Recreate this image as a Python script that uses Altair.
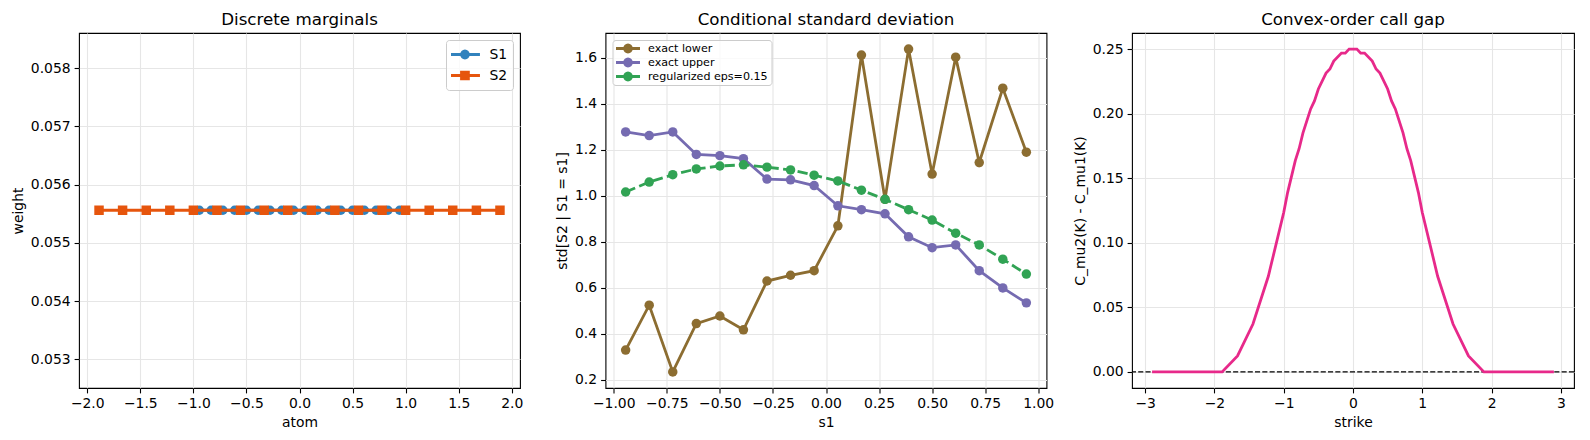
import math

import altair as alt
import pandas as pd

FONT = "DejaVu Sans"

# ---------------- discrete marginals ----------------
s1_atoms = [-0.944, -0.833, -0.722, -0.611, -0.5, -0.389, -0.278, -0.167, -0.056,
            0.056, 0.167, 0.278, 0.389, 0.5, 0.611, 0.722, 0.833, 0.944]
s1_weights = [0.05556, 0.05556, 0.05556, 0.05556, 0.05556, 0.05556, 0.05556, 0.05556, 0.05556,
              0.05556, 0.05556, 0.05556, 0.05556, 0.05556, 0.05556, 0.05556, 0.05556, 0.05556]
s2_atoms = [-1.889, -1.667, -1.444, -1.222, -1.0, -0.778, -0.556, -0.333, -0.111,
            0.111, 0.333, 0.556, 0.778, 1.0, 1.222, 1.444, 1.667, 1.889]
s2_weights = [0.05556, 0.05556, 0.05556, 0.05556, 0.05556, 0.05556, 0.05556, 0.05556, 0.05556,
              0.05556, 0.05556, 0.05556, 0.05556, 0.05556, 0.05556, 0.05556, 0.05556, 0.05556]

# ---------------- conditional std ----------------
s1_grid = [-0.944, -0.833, -0.722, -0.611, -0.5, -0.389, -0.278, -0.167, -0.056,
           0.056, 0.167, 0.278, 0.389, 0.5, 0.611, 0.722, 0.833, 0.944]
std_lower = [0.33, 0.525, 0.235, 0.445, 0.478, 0.418, 0.63, 0.655, 0.675,
             0.87, 1.612, 0.985, 1.638, 1.095, 1.603, 1.145, 1.468, 1.19]
std_upper = [1.278, 1.262, 1.278, 1.18, 1.175, 1.162, 1.073, 1.07, 1.045,
             0.957, 0.94, 0.922, 0.822, 0.775, 0.787, 0.675, 0.60, 0.535]
std_reg = [1.017, 1.06, 1.092, 1.117, 1.13, 1.135, 1.125, 1.113, 1.09,
           1.065, 1.025, 0.985, 0.94, 0.895, 0.838, 0.787, 0.725, 0.66]

# ---------------- call gap ----------------
strikes = [-2.9, -1.889, -1.667, -1.444, -1.222, -1.0, -0.944, -0.833, -0.778, -0.722,
           -0.611, -0.556, -0.5, -0.389, -0.333, -0.278, -0.167, -0.111, -0.056, 0.0,
           0.056, 0.111, 0.167, 0.278, 0.333, 0.389, 0.5, 0.556, 0.611, 0.722,
           0.778, 0.833, 0.944, 1.0, 1.222, 1.444, 1.667, 1.889, 2.9]
call_gap = [0.0, 0.0, 0.01235, 0.03704, 0.07407, 0.12346, 0.13889, 0.16358, 0.17284, 0.18519,
            0.20370, 0.20988, 0.21914, 0.23148, 0.23457, 0.24074, 0.24691, 0.24691, 0.25, 0.25,
            0.25, 0.24691, 0.24691, 0.24074, 0.23457, 0.23148, 0.21914, 0.20988, 0.20370, 0.18519,
            0.17284, 0.16358, 0.13889, 0.12346, 0.07407, 0.03704, 0.01235, 0.0, 0.0]

W, H = 441, 355
LW = 2.8
MS = 90


# legend glyphs: a line segment with a marker on it (unit = sqrt(size)/2 px)
def circle_glyph(half, r=0.69, n=16):
    pts = [(r * math.cos(2 * math.pi * k / n), r * math.sin(2 * math.pi * k / n)) for k in range(n)]
    ring = "M" + "L".join(f"{x:.3f},{y:.3f}" for x, y in pts) + "Z"
    return f"M{-half},0H{half}" + ring


def square_glyph(half, r=0.69):
    return f"M{-half},0H{half}M{-r},{-r}H{r}V{r}H{-r}Z"


def legend_layer(names, colors, shapes, orient, offset, font_size, sym_off, lab_off,
                 row_pad, row_h, pad):
    leg = alt.Legend(
        title=None, orient=orient, offset=offset, fillColor="rgba(255,255,255,0.8)",
        strokeColor="#cccccc", cornerRadius=3, padding=pad,
        labelFont=FONT, labelFontSize=font_size, labelColor="black",
        symbolSize=100, symbolStrokeWidth=LW, symbolOffset=sym_off,
        labelOffset=lab_off, rowPadding=row_pad, clipHeight=row_h, symbolOpacity=1,
    )
    df = pd.DataFrame({"series": names})
    return (
        alt.Chart(df)
        .mark_point(filled=True, size=100, strokeWidth=LW, opacity=1)
        .encode(
            fill=alt.Fill("series:N", scale=alt.Scale(domain=names, range=colors), legend=leg),
            stroke=alt.Stroke("series:N", scale=alt.Scale(domain=names, range=colors), legend=leg),
            shape=alt.Shape("series:N", scale=alt.Scale(domain=names, range=shapes), legend=leg),
        )
        .transform_filter("false")
    )


# ---------- panel 1 ----------
m1 = pd.DataFrame({"atom": s1_atoms, "weight": s1_weights})
m2 = pd.DataFrame({"atom": s2_atoms, "weight": s2_weights})
x1 = alt.X("atom:Q", title="atom",
           scale=alt.Scale(domain=[-2.0778, 2.0778], nice=False, zero=False),
           axis=alt.Axis(values=[-2.0, -1.5, -1.0, -0.5, 0.0, 0.5, 1.0, 1.5, 2.0], format=".1f"))
y1 = alt.Y("weight:Q", title="weight",
           scale=alt.Scale(domain=[0.052505, 0.058606], nice=False, zero=False),
           axis=alt.Axis(values=[0.053, 0.054, 0.055, 0.056, 0.057, 0.058], format=".3f"))
BLUE, ORANGE = "#3182bd", "#e6550d"
p1 = alt.layer(
    alt.Chart(m1).mark_line(color=BLUE, strokeWidth=LW).encode(x=x1, y=y1),
    alt.Chart(m1).mark_circle(color=BLUE, size=MS, opacity=1).encode(x=x1, y=y1),
    alt.Chart(m2).mark_line(color=ORANGE, strokeWidth=LW).encode(x=x1, y=y1),
    alt.Chart(m2).mark_square(color=ORANGE, size=MS, opacity=1).encode(x=x1, y=y1),
    legend_layer(["S1", "S2"], [BLUE, ORANGE], [circle_glyph(3), square_glyph(3)],
                 "top-right", 7, 13.9, 7, 17.5, 2, 19, 5),
).properties(width=W, height=H, title="Discrete marginals")

# ---------- panel 2 ----------
BROWN, PURPLE, GREEN = "#8c6d31", "#756bb1", "#31a354"
d_low = pd.DataFrame({"s1": s1_grid, "std": std_lower})
d_up = pd.DataFrame({"s1": s1_grid, "std": std_upper})
d_reg = pd.DataFrame({"s1": s1_grid, "std": std_reg})
x2 = alt.X("s1:Q", title="s1",
           scale=alt.Scale(domain=[-1.0389, 1.0389], nice=False, zero=False),
           axis=alt.Axis(values=[-1.0, -0.75, -0.5, -0.25, 0.0, 0.25, 0.5, 0.75, 1.0], format=".2f"))
y2 = alt.Y("std:Q", title="std[S2 | S1 = s1]",
           scale=alt.Scale(domain=[0.165, 1.708], nice=False, zero=False),
           axis=alt.Axis(values=[0.2, 0.4, 0.6, 0.8, 1.0, 1.2, 1.4, 1.6], format=".1f"))
names2 = ["exact lower", "exact upper", "regularized eps=0.15"]
p2 = alt.layer(
    alt.Chart(d_low).mark_line(color=BROWN, strokeWidth=LW).encode(x=x2, y=y2),
    alt.Chart(d_low).mark_circle(color=BROWN, size=MS, opacity=1).encode(x=x2, y=y2),
    alt.Chart(d_up).mark_line(color=PURPLE, strokeWidth=LW).encode(x=x2, y=y2),
    alt.Chart(d_up).mark_circle(color=PURPLE, size=MS, opacity=1).encode(x=x2, y=y2),
    alt.Chart(d_reg).mark_line(color=GREEN, strokeWidth=LW, strokeDash=[10.3, 4.4]).encode(x=x2, y=y2),
    alt.Chart(d_reg).mark_circle(color=GREEN, size=MS, opacity=1).encode(x=x2, y=y2),
    legend_layer(names2, [BROWN, PURPLE, GREEN],
                 [circle_glyph(2.4), circle_glyph(2.4), circle_glyph(2.4)],
                 "top-left", 6.5, 11.1, 6, 13.5, 2, 11, 3),
).properties(width=W, height=H, title="Conditional standard deviation")

# ---------- panel 3 ----------
gap = pd.DataFrame({"strike": strikes, "gap": call_gap})
zero = pd.DataFrame({"gap": [0.0]})
x3 = alt.X("strike:Q", title="strike",
           scale=alt.Scale(domain=[-3.19, 3.19], nice=False, zero=False),
           axis=alt.Axis(values=[-3, -2, -1, 0, 1, 2, 3], format="d"))
y3 = alt.Y("gap:Q", title="C_mu2(K) - C_mu1(K)",
           scale=alt.Scale(domain=[-0.0125, 0.2625], nice=False, zero=False),
           axis=alt.Axis(values=[0.0, 0.05, 0.1, 0.15, 0.2, 0.25], format=".2f"))
p3 = alt.layer(
    alt.Chart(zero).mark_rule(color="black", strokeWidth=1.4, strokeDash=[5.1, 2.2]).encode(y=y3),
    alt.Chart(gap).mark_line(color="#e7298a", strokeWidth=LW).encode(x=x3, y=y3),
).properties(width=W + 1, height=H, title="Convex-order call gap")

chart = (
    alt.hconcat(p1, p2, p3, spacing=85.5, bounds="flush")
    .resolve_scale(fill="independent", stroke="independent", shape="independent")
    .properties(padding={"left": 10, "top": 11, "right": 5, "bottom": 5})
    .configure(font=FONT)
    .configure_view(stroke="black", strokeWidth=1.1)
    .configure_axis(
        domain=False, grid=True, gridColor="#e6e6e6", gridWidth=1.1,
        tickColor="black", tickSize=4.9, tickWidth=1.1,
        labelFont=FONT, labelFontSize=13.9, labelColor="black", labelPadding=4,
        labelFlush=False, labelOverlap=False,
        titleFont=FONT, titleFontSize=13.9, titleFontWeight="normal", titleColor="black",
        titlePadding=5,
    )
    .configure_title(font=FONT, fontSize=16.7, fontWeight="normal", color="black",
                     anchor="middle", frame="group", offset=4.3, baseline="alphabetic")
)

chart.save("out.html", embed_options={"renderer": "svg", "actions": False})
